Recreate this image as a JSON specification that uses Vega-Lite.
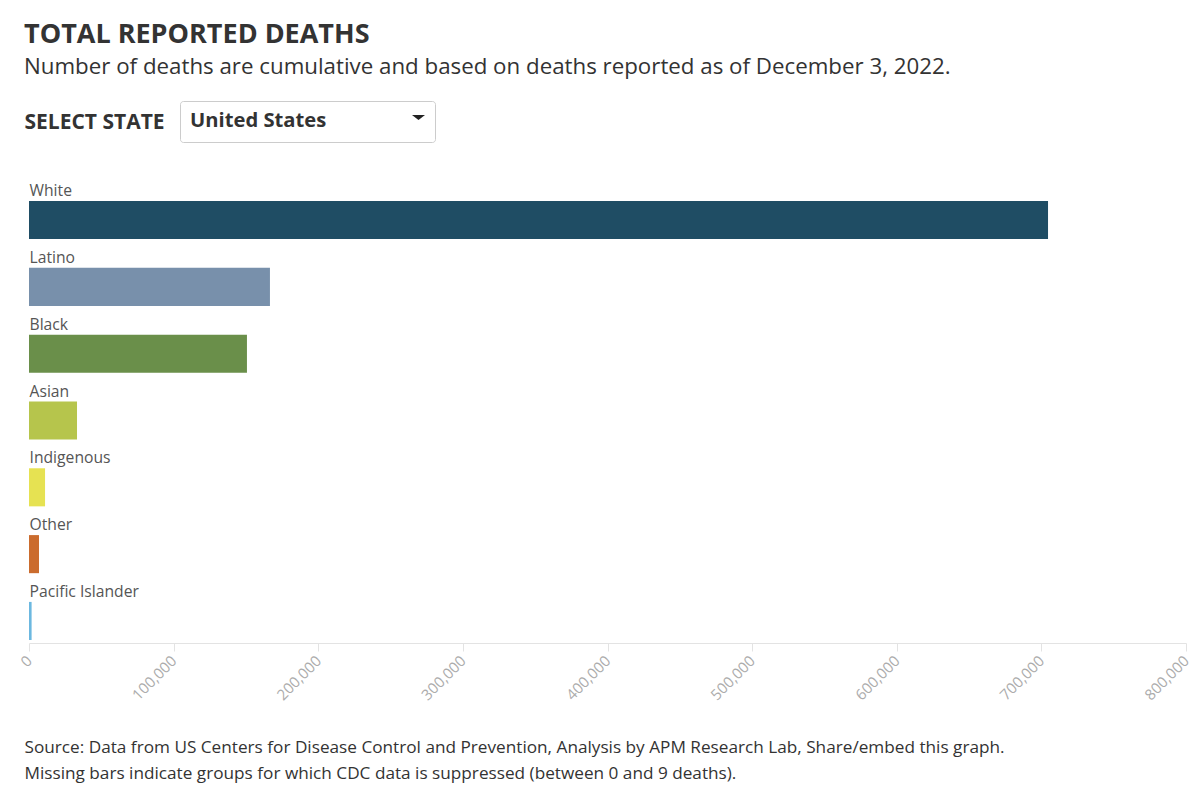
{
  "$schema": "https://vega.github.io/schema/vega-lite/v6.json",
  "width": 1157,
  "height": 445,
  "autosize": "none",
  "padding": {"left": 29, "top": 198, "right": 10, "bottom": 144},
  "background": "white",
  "config": {"font": "Open Sans", "view": {"stroke": null}},
  "title": {
    "text": "TOTAL REPORTED DEATHS",
    "subtitle": "Number of deaths are cumulative and based on deaths reported as of December 3, 2022.",
    "anchor": "start",
    "frame": "group",
    "dx": -5,
    "fontSize": 27,
    "fontWeight": "bold",
    "color": "#333333",
    "subtitleFontSize": 22.3,
    "subtitleColor": "#333333",
    "subtitlePadding": 7,
    "offset": 21
  },
  "data": {
    "values": [
      {"race": "White", "deaths": 704600},
      {"race": "Latino", "deaths": 166600},
      {"race": "Black", "deaths": 150700},
      {"race": "Asian", "deaths": 33200},
      {"race": "Indigenous", "deaths": 11100},
      {"race": "Other", "deaths": 6900},
      {"race": "Pacific Islander", "deaths": 1800}
    ]
  },
  "layer": [
    {
      "mark": {"type": "bar"},
      "encoding": {
        "y": {
          "field": "race",
          "type": "nominal",
          "sort": null,
          "scale": {"paddingInner": 0.43, "paddingOuter": 0.045},
          "axis": {
            "title": "SELECT STATE",
            "titleAngle": 0,
            "titleAlign": "left",
            "titleBaseline": "alphabetic",
            "titleX": -5,
            "titleY": -70,
            "titleFontSize": 21,
            "titleFontWeight": "bold",
            "titleColor": "#333333",
            "ticks": false,
            "domain": false,
            "labelAlign": "left",
            "labelBaseline": "alphabetic",
            "labelPadding": 0,
            "labelOffset": -24,
            "labelFontSize": 15.7,
            "labelColor": "#555555"
          }
        },
        "x": {
          "field": "deaths",
          "type": "quantitative",
          "scale": {"domain": [0, 800000], "nice": false},
          "axis": {
            "values": [0, 100000, 200000, 300000, 400000, 500000, 600000, 700000, 800000],
            "format": ",d",
            "grid": false,
            "labelAngle": -45,
            "labelAlign": "right",
            "labelBaseline": "middle",
            "labelFontSize": 15,
            "labelColor": "#acacac",
            "labelPadding": 7,
            "domainColor": "#e3e3e3",
            "tickColor": "#e3e3e3",
            "tickSize": 8,
            "title": [
              "Source: Data from US Centers for Disease Control and Prevention, Analysis by APM Research Lab, Share/embed this graph.",
              "Missing bars indicate groups for which CDC data is suppressed (between 0 and 9 deaths)."
            ],
            "titleAnchor": "start",
            "titleAlign": "left",
            "titleBaseline": "alphabetic",
            "titleX": -5,
            "titleY": 109,
            "titleFontSize": 17.2,
            "titleFontWeight": "normal",
            "titleColor": "#333333",
            "titleLineHeight": 26
          }
        },
        "color": {
          "field": "race",
          "type": "nominal",
          "scale": {
            "domain": ["White", "Latino", "Black", "Asian", "Indigenous", "Other", "Pacific Islander"],
            "range": ["#1f4d64", "#7890ab", "#6a8f4a", "#b6c54c", "#e6e252", "#cb6c2e", "#6cb8e0"]
          },
          "legend": null
        }
      }
    },
    {
      "mark": {"type": "point", "filled": true, "size": 0, "strokeWidth": 0, "color": "#222222"},
      "encoding": {
        "shape": {
          "datum": "United States",
          "scale": {"range": ["M-1,-0.4L1,-0.4L0,0.4Z"]},
          "legend": {
            "orient": "none",
            "legendX": 151,
            "legendY": -97,
            "title": "United States",
            "titleOrient": "left",
            "titleAnchor": "start",
            "titleFontSize": 20.2,
            "titleFontWeight": "bold",
            "titleColor": "#333333",
            "titleBaseline": "top",
            "titlePadding": 85,
            "labelExpr": "''",
            "labelOffset": 0,
            "symbolSize": 169,
            "symbolFillColor": "#222222",
            "symbolStrokeWidth": 0,
            "symbolOpacity": 1,
            "padding": 10,
            "strokeColor": "#cccccc",
            "cornerRadius": 3,
            "fillColor": "white"
          }
        }
      }
    }
  ]
}
